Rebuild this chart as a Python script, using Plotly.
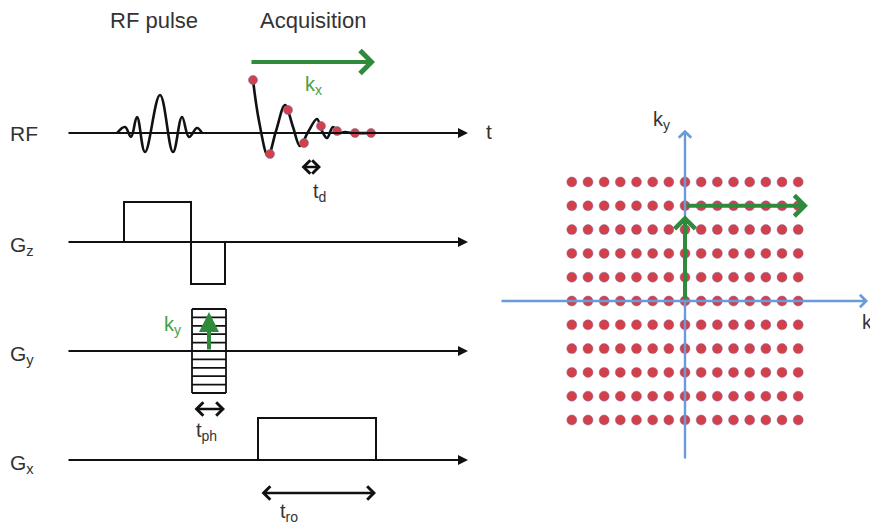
import plotly.graph_objects as go

# ---------------- data ----------------
# pulse-sequence diagram (time to the right, amplitude upward, diagram units)
channel_names = ["RF", "G<sub>z</sub>", "G<sub>y</sub>", "G<sub>x</sub>"]
channel_base = [133, 242, 351, 460]
time_span = [67, 468]

rf_pulse_t = [117, 125, 131, 137, 145, 160, 173, 182, 189, 197, 202]
rf_pulse_a = [0, 6, -4, 16, -19, 38, -19, 16, -4, 5, 0]

fid_t = [253, 259, 268, 276, 285, 293, 300, 308, 317, 322, 327, 333, 339, 345, 352, 371]
fid_a = [53, 12, -23, 2, 28, 6, -13, 1, 14, 2, -5, 6, 0, 1, 0, 0]

sample_t = [253, 270, 288, 304, 321, 337, 355, 371]
sample_a = [53, -21, 23, -10, 7, 2, 0, 0]

gz_t = [124, 124, 191, 191, 225, 225]
gz_a = [0, 40, 40, -42, -42, 0]

gy_t = [192, 226]
gy_a = [-42, 42]
gy_steps = 10

gx_t = [258, 258, 376, 376]
gx_a = [0, 42, 42, 0]

kx_arrow_t = [250, 375]
kx_arrow_a = 71
td_t = [300, 321]
tph_t = [193, 225]
tro_t = [260, 376]

# k-space grid
kx_vals = list(range(-7, 8))
ky_vals = list(range(-5, 6))
kx_axis = [-11.44, 11.32]
ky_axis = [-6.68, 7.2]
traj_up = [0, 3.6]
traj_right = [0, 7.6]
traj_row = 4

# ---------------- styling ----------------
BLACK = "#111111"
GREEN = "#2f8a3c"
GREEN_TXT = "#45a146"
RED = "#d4404a"
BLUE = "#6a9bd6"
TXT = "#333333"
FONT = "Liberation Sans, Arial, sans-serif"
OFF = 8  # page offset of the figure inside the browser window

fig = go.Figure()

def Y(base, amps):
    return [base - a for a in amps]

rf_b, gz_b, gy_b, gx_b = channel_base

# RF pulse and FID
fig.add_trace(go.Scatter(x=rf_pulse_t, y=Y(rf_b, rf_pulse_a), mode="lines",
                         line=dict(color=BLACK, width=2.6, shape="spline", smoothing=1.1)))
fig.add_trace(go.Scatter(x=fid_t, y=Y(rf_b, fid_a), mode="lines",
                         line=dict(color=BLACK, width=2.6, shape="spline", smoothing=1.0)))
fig.add_trace(go.Scatter(x=sample_t, y=Y(rf_b, sample_a), mode="markers",
                         marker=dict(color=RED, size=9,
                                     line=dict(color="rgba(120,110,170,0.6)", width=1))))

# Gz
fig.add_trace(go.Scatter(x=gz_t, y=Y(gz_b, gz_a), mode="lines",
                         line=dict(color=BLACK, width=2)))
# Gy phase table
xs, ys = [], []
for i in range(gy_steps + 1):
    lvl = gy_a[0] + (gy_a[1] - gy_a[0]) * i / gy_steps
    xs += [gy_t[0], gy_t[1], None]
    ys += [gy_b - lvl, gy_b - lvl, None]
for t in gy_t:
    xs += [t, t, None]
    ys += [gy_b - gy_a[0], gy_b - gy_a[1], None]
fig.add_trace(go.Scatter(x=xs, y=ys, mode="lines", line=dict(color=BLACK, width=1.8)))
# Gx
fig.add_trace(go.Scatter(x=gx_t, y=Y(gx_b, gx_a), mode="lines",
                         line=dict(color=BLACK, width=2)))

# k-space grid
gx_pts, gy_pts = [], []
for ky in ky_vals:
    for kx in kx_vals:
        gx_pts.append(kx)
        gy_pts.append(ky)
fig.add_trace(go.Scatter(x=gx_pts, y=gy_pts, mode="markers", xaxis="x2", yaxis="y2",
                         marker=dict(color=RED, size=10,
                                     line=dict(color="rgba(120,110,170,0.45)", width=1))))

ann = []
# channel axes with arrows
for b in channel_base:
    ann.append(dict(x=time_span[1], y=b, ax=time_span[0], ay=b, xref="x", yref="y",
                    axref="x", ayref="y", text="", showarrow=True, arrowhead=2,
                    arrowsize=1, arrowwidth=2, arrowcolor=BLACK))
# channel labels
for name, b in zip(channel_names, channel_base):
    ann.append(dict(x=8, y=b + (0 if name == "RF" else 4), xref="x", yref="y", text=name,
                    showarrow=False, xanchor="left", yanchor="middle",
                    font=dict(family=FONT, size=21, color=TXT)))
ann.append(dict(x=484, y=rf_b - 2, xref="x", yref="y", text="t", showarrow=False,
                xanchor="left", yanchor="middle", font=dict(family=FONT, size=21, color=TXT)))
# titles
ann.append(dict(x=154, y=20, xref="x", yref="y", text="RF pulse", showarrow=False,
                font=dict(family=FONT, size=22, color=TXT)))
ann.append(dict(x=313, y=20, xref="x", yref="y", text="Acquisition", showarrow=False,
                font=dict(family=FONT, size=22, color=TXT)))
# kx arrow (acquisition)
ann.append(dict(x=kx_arrow_t[1], y=rf_b - kx_arrow_a, ax=kx_arrow_t[0], ay=rf_b - kx_arrow_a,
                xref="x", yref="y", axref="x", ayref="y", text="", showarrow=True,
                arrowhead=4, arrowsize=1.1, arrowwidth=4, arrowcolor=GREEN))
ann.append(dict(x=313, y=85, xref="x", yref="y", text="k<sub>x</sub>", showarrow=False,
                font=dict(family=FONT, size=20, color=GREEN_TXT)))
# ky arrow in Gy table
ann.append(dict(x=209, y=gy_b - 39, ax=209, ay=gy_b, xref="x", yref="y", axref="x",
                ayref="y", text="", showarrow=True, arrowhead=2, arrowsize=1,
                arrowwidth=4, arrowcolor=GREEN))
ann.append(dict(x=172, y=325, xref="x", yref="y", text="k<sub>y</sub>", showarrow=False,
                font=dict(family=FONT, size=20, color=GREEN_TXT)))
# timing double arrows
for (t0, t1), yy, lab, lx, ly in [(td_t, rf_b + 34, "t<sub>d</sub>", 319, 192),
                                  (tph_t, gy_b + 58, "t<sub>ph</sub>", 206, 431),
                                  (tro_t, gx_b + 33, "t<sub>ro</sub>", 289, 512)]:
    ann.append(dict(x=t1, y=yy, ax=t0, ay=yy, xref="x", yref="y", axref="x", ayref="y",
                    text="", showarrow=True, arrowhead=4, arrowside="end+start",
                    arrowsize=1, arrowwidth=2.6, arrowcolor=BLACK))
    ann.append(dict(x=lx, y=ly, xref="x", yref="y", text=lab, showarrow=False,
                    font=dict(family=FONT, size=20, color=TXT)))

# k-space axes
ann.append(dict(x=kx_axis[1], y=0, ax=kx_axis[0], ay=0, xref="x2", yref="y2", axref="x2",
                ayref="y2", text="", showarrow=True, arrowhead=4, arrowsize=1,
                arrowwidth=2.4, arrowcolor=BLUE))
ann.append(dict(x=0, y=ky_axis[1], ax=0, ay=ky_axis[0], xref="x2", yref="y2", axref="x2",
                ayref="y2", text="", showarrow=True, arrowhead=4, arrowsize=1,
                arrowwidth=2.4, arrowcolor=BLUE))
ann.append(dict(x=-1.45, y=7.6, xref="x2", yref="y2", text="k<sub>y</sub>", showarrow=False,
                font=dict(family=FONT, size=20, color=TXT)))
ann.append(dict(x=10.8, y=-0.95, xref="x2", yref="y2", text="k<sub>x</sub>", showarrow=False,
                xanchor="left", font=dict(family=FONT, size=20, color=TXT)))
# trajectory arrows
ann.append(dict(x=0, y=traj_up[1], ax=0, ay=traj_up[0], xref="x2", yref="y2", axref="x2",
                ayref="y2", text="", showarrow=True, arrowhead=4, arrowsize=1,
                arrowwidth=4, arrowcolor=GREEN))
ann.append(dict(x=traj_right[1], y=traj_row, ax=traj_right[0], ay=traj_row, xref="x2",
                yref="y2", axref="x2", ayref="y2", text="", showarrow=True, arrowhead=4,
                arrowsize=1, arrowwidth=4, arrowcolor=GREEN))

kx_px, ky_px, kc_x, kc_y = 16.17, 23.8, 685, 301
fig.update_layout(
    width=878 - OFF, height=528 - OFF, margin=dict(l=0, r=0, t=0, b=0),
    paper_bgcolor="white", plot_bgcolor="white", showlegend=False,
    xaxis=dict(range=[OFF, 878], visible=False, domain=[0, 1]),
    yaxis=dict(range=[528, OFF], visible=False, domain=[0, 1]),
    xaxis2=dict(range=[(OFF - kc_x) / kx_px, (878 - kc_x) / kx_px], visible=False,
                overlaying="x", domain=[0, 1]),
    yaxis2=dict(range=[(kc_y - 528) / ky_px, (kc_y - OFF) / ky_px], visible=False,
                overlaying="y", domain=[0, 1]),
    annotations=ann,
)
fig.write_html("out.html")
